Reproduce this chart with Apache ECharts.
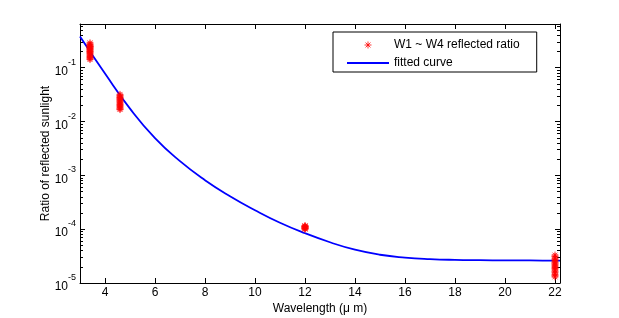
<!DOCTYPE html>
<html><head><meta charset="utf-8">
<script src="https://cdn.jsdelivr.net/npm/echarts@6/dist/echarts.min.js"></script>
<style>html,body{margin:0;padding:0;background:#fff}#c{width:619px;height:318px}</style>
</head><body><div id="c"></div>
<script>
// ---- data ----
const xTicks = [4, 6, 8, 10, 12, 14, 16, 18, 20, 22];
const yTicks = [1e-5, 1e-4, 1e-3, 1e-2, 1e-1];
const bandWavelengths = [3.4, 4.6, 12, 22];
const w1Ratio = [0.29, 0.275, 0.265, 0.255, 0.25, 0.245, 0.24, 0.232, 0.225, 0.22, 0.212, 0.205, 0.2, 0.192, 0.185, 0.178, 0.17, 0.162, 0.155, 0.148, 0.142];
const w2Ratio = [0.032, 0.0305, 0.029, 0.028, 0.027, 0.026, 0.025, 0.024, 0.023, 0.022, 0.021, 0.0203, 0.0196, 0.0188, 0.018, 0.0173, 0.0167];
const w3Ratio = [1.16e-4, 1.14e-4, 1.12e-4, 1.1e-4, 1.08e-4, 1.06e-4, 1.04e-4, 1.02e-4, 1.0e-4];
const w4Ratio = [3.3e-5, 3.1e-5, 2.9e-5, 2.75e-5, 2.6e-5, 2.45e-5, 2.35e-5, 2.25e-5, 2.15e-5, 2.05e-5, 1.95e-5, 1.85e-5, 1.75e-5, 1.65e-5, 1.55e-5, 1.45e-5, 1.37e-5, 1.3e-5];
const curveWavelength = [3, 4, 5, 6, 7, 8, 9, 10, 11, 12, 13, 14, 15, 16, 17, 18, 19, 20, 21, 22, 22.2];
const curveRatio = [0.3805, 0.078, 0.01741, 0.004922, 0.001837, 8.14e-4, 4.10e-4, 2.253e-4, 1.318e-4, 8.41e-5, 5.72e-5, 4.15e-5, 3.35e-5, 2.97e-5, 2.78e-5, 2.69e-5, 2.655e-5, 2.633e-5, 2.622e-5, 2.611e-5, 2.611e-5];

// ---- build ----
const bands = [w1Ratio, w2Ratio, w3Ratio, w4Ratio];
const scatterData = [];
bands.forEach((arr, i) => arr.forEach(v => scatterData.push([bandWavelengths[i], v])));
const curveData = curveWavelength.map((w, i) => [w, curveRatio[i]]);

const yMinorTicks = [];
for (let e = -5; e <= -1; e++) for (let m = 2; m <= 9; m++) {
  const v = m * Math.pow(10, e);
  if (v <= 0.65) yMinorTicks.push(v);
}

const FONT = 'Liberation Sans, Arial, Helvetica, sans-serif';
const starPath = 'path://M5,0L5,10M0,5L10,5M1.5,1.5L8.5,8.5M1.5,8.5L8.5,1.5';
const X_MIN = 3, X_MAX = 22.2, Y_MIN = 1e-5, Y_MAX = 0.65;

function yFmt(v) {
  const e = Math.round(Math.log10(v));
  return '{b|10}{s|' + e + '}';
}

const baseY = {
  type: 'log', logBase: 10, min: Y_MIN, max: Y_MAX,
  splitLine: { show: false },
  axisLine: { show: false }
};

const chart = echarts.init(document.getElementById('c'), null, { renderer: 'canvas' });
chart.setOption({
  backgroundColor: '#fff',
  animation: false,
  textStyle: { fontFamily: FONT },
  grid: { left: 80, right: 59, top: 24, bottom: 35, containLabel: false, outerBoundsMode: 'none' },
  legend: {
    orient: 'vertical', left: 333, top: 32,
    padding: [7, 17, 3, 13], itemGap: 6, itemWidth: 42, itemHeight: 7,
    borderColor: '#000', borderWidth: 1, borderRadius: 0, backgroundColor: '#fff',
    textStyle: { fontSize: 12, color: '#000', fontFamily: FONT },
    data: [
      { name: 'W1 ~ W4 reflected ratio', icon: starPath,
        itemStyle: { color: '#ff0000', borderColor: '#ff0000', borderWidth: 0.8 } },
      { name: 'fitted curve', itemStyle: { opacity: 0, color: 'transparent', borderColor: 'transparent' } }
    ]
  },
  xAxis: [
    {
      type: 'value', min: X_MIN, max: X_MAX, position: 'bottom',
      name: 'Wavelength (\u03bc m)', nameLocation: 'middle', nameGap: 20, nameMoveOverlap: false,
      nameTextStyle: { fontSize: 12, color: '#000', fontFamily: FONT },
      axisLine: { show: true, lineStyle: { color: '#000', width: 1 } },
      axisTick: { show: true, inside: true, length: 5, customValues: xTicks, lineStyle: { color: '#000' } },
      axisLabel: { show: true, margin: 4, fontSize: 12, color: '#000', fontFamily: FONT, customValues: xTicks },
      splitLine: { show: false }
    },
    {
      type: 'value', min: X_MIN, max: X_MAX, position: 'top',
      axisLine: { show: true, lineStyle: { color: '#000', width: 1 } },
      axisTick: { show: true, inside: true, length: 5, customValues: xTicks, lineStyle: { color: '#000' } },
      axisLabel: { show: false },
      splitLine: { show: false }
    }
  ],
  yAxis: [
    Object.assign({}, baseY, {
      position: 'left',
      name: 'Ratio of reflected sunlight', nameLocation: 'middle', nameGap: 28, nameMoveOverlap: false,
      nameTextStyle: { fontSize: 12, color: '#000', fontFamily: FONT },
      axisLine: { show: true, lineStyle: { color: '#000', width: 1 } },
      axisTick: { show: true, inside: true, length: 5, customValues: yTicks, lineStyle: { color: '#000' } },
      axisLabel: {
        show: true, margin: 4, color: '#000', fontFamily: FONT, customValues: yTicks,
        formatter: yFmt,
        rich: {
          b: { fontSize: 12, lineHeight: 20, verticalAlign: 'bottom', color: '#000', fontFamily: FONT },
          s: { fontSize: 9, lineHeight: 10, verticalAlign: 'top', color: '#000', fontFamily: FONT }
        }
      }
    }),
    Object.assign({}, baseY, {
      position: 'left',
      axisTick: { show: true, inside: true, length: 3, customValues: yMinorTicks, lineStyle: { color: '#000' } },
      axisLabel: { show: false }
    }),
    Object.assign({}, baseY, {
      position: 'right',
      axisLine: { show: true, lineStyle: { color: '#000', width: 1 } },
      axisTick: { show: true, inside: true, length: 5, customValues: yTicks, lineStyle: { color: '#000' } },
      axisLabel: { show: false }
    }),
    Object.assign({}, baseY, {
      position: 'right',
      axisTick: { show: true, inside: true, length: 3, customValues: yMinorTicks, lineStyle: { color: '#000' } },
      axisLabel: { show: false }
    })
  ],
  series: [
    {
      name: 'W1 ~ W4 reflected ratio', type: 'scatter', xAxisIndex: 0, yAxisIndex: 0,
      data: scatterData, symbol: starPath, symbolSize: 7,
      itemStyle: { color: '#ff0000', borderColor: '#ff0000', borderWidth: 0.8, opacity: 1 },
      z: 3
    },
    {
      name: 'fitted curve', type: 'line', xAxisIndex: 0, yAxisIndex: 0,
      data: curveData, smooth: 0.5, symbol: 'none', showSymbol: false,
      lineStyle: { color: '#0000ff', width: 1.8 },
      itemStyle: { color: '#0000ff' },
      z: 2
    }
  ]
});
</script>
</body></html>
